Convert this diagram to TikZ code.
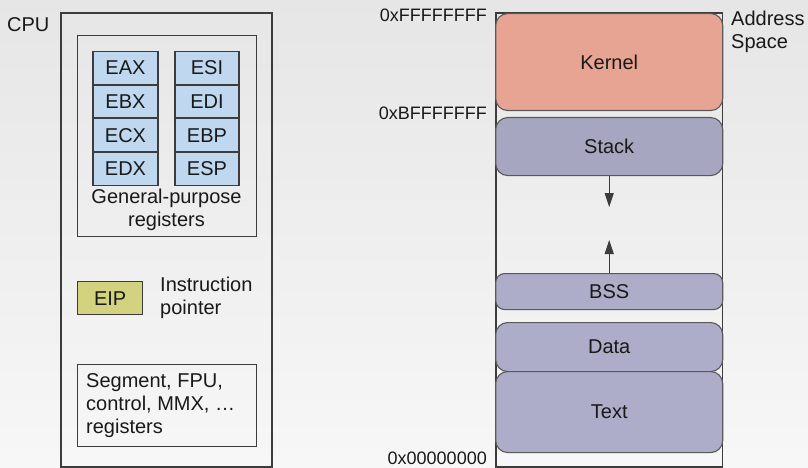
\documentclass[tikz,border=0pt]{standalone}
\usepackage{fontspec}
\setmainfont{Liberation Sans}
\usetikzlibrary{arrows.meta}
\definecolor{bgtop}{HTML}{E6E6E6}
\definecolor{bgbot}{HTML}{F7F7F7}
\definecolor{frame}{HTML}{3C3C3C}
\definecolor{regblue}{HTML}{BFD8EF}
\definecolor{eipfill}{HTML}{D3D27E}
\definecolor{kernfill}{HTML}{E8A492}
\definecolor{stackfill}{HTML}{A6A6C0}
\definecolor{segfill}{HTML}{ADADCA}
\tikzset{
  every node/.style={font=\fontsize{20}{23}\selectfont, text=black!90, inner sep=0pt},
  framebox/.style={draw=frame, line width=1.3pt},
  reg/.style={draw=frame, line width=1.1pt, fill=regblue, minimum width=65pt, minimum height=32.5pt},
  seg/.style={draw=frame!85, line width=1.1pt, rounded corners=12pt, minimum width=227pt},
  hexlbl/.style={font=\fontsize{18}{21}\selectfont, anchor=east},
  growth/.style={draw=frame, line width=1.1pt, -{Triangle[length=14pt,width=9pt]}}
}
\begin{document}
\begin{tikzpicture}[x=1pt,y=-1pt]
\useasboundingbox (0,0) rectangle (808,468);
\shade[top color=bgtop, bottom color=bgbot] (0,0) rectangle (808,468);
% CPU
\node[anchor=west] (cpulbl) at (7,25) {CPU};
\draw[framebox] (61,13) rectangle (272,467);
\node[framebox, minimum width=179pt, minimum height=201pt, anchor=north west] (gpbox) at (77,35) {};
% registers
\node[reg] (eax) at (125.5,68) {EAX};
\node[reg, anchor=north] (ebx) at (eax.south) {EBX};
\node[reg, anchor=north] (ecx) at (ebx.south) {ECX};
\node[reg, anchor=north] (edx) at (ecx.south) {EDX};
\node[reg, minimum width=64pt] (esi) at (207,68) {ESI};
\node[reg, minimum width=64pt, anchor=north] (edi) at (esi.south) {EDI};
\node[reg, minimum width=64pt, anchor=north] (ebp) at (edi.south) {EBP};
\node[reg, minimum width=64pt, anchor=north] (esp) at (ebp.south) {ESP};
\node[align=center] (gplbl) at (166.5,209.5) {General-purpose\\registers};
% EIP
\node[draw=frame, line width=1.3pt, fill=eipfill, minimum width=65pt, minimum height=33pt, anchor=north west] (eip) at (77,281) {EIP};
\node[align=left, anchor=west] (iplbl) at (160,298) {Instruction\\pointer};
% other registers
\node[framebox, minimum width=179pt, minimum height=82pt, anchor=north west] (otherbox) at (77,364) {};
\node[align=left, anchor=north west] (otherlbl) at (86,373) {Segment, FPU,\\control, MMX, \dots\\registers};
% Address space
\draw[framebox] (496,13) rectangle (722.5,467);
\node[anchor=north west, align=left] (aslbl) at (731,11) {Address\\Space};
\node[seg, fill=kernfill, minimum height=97pt, anchor=north] (kernel) at (609.2,13) {Kernel};
\node[seg, fill=stackfill, minimum height=58pt, anchor=north] (stack) at (609.2,117) {Stack};
\node[seg, fill=segfill, minimum height=36pt, anchor=north, rounded corners=9pt] (bss) at (609.2,273) {BSS};
\node[seg, fill=segfill, minimum height=49pt, anchor=north] (data) at (609.2,322) {Data};
\node[seg, fill=segfill, minimum height=81pt, anchor=north] (text) at (609.2,371) {Text};
\coordinate (downtip) at (609.2,207);
\coordinate (uptip) at (609.2,240);
\draw[growth] (stack.south) -- (downtip);
\draw[growth] (bss.north) -- (uptip);
\node[hexlbl] (hexF) at (487,15) {0xFFFFFFFF};
\node[hexlbl] (hexB) at (487,113) {0xBFFFFFFF};
\node[hexlbl] (hex0) at (487,458) {0x00000000};
\end{tikzpicture}
\end{document}
